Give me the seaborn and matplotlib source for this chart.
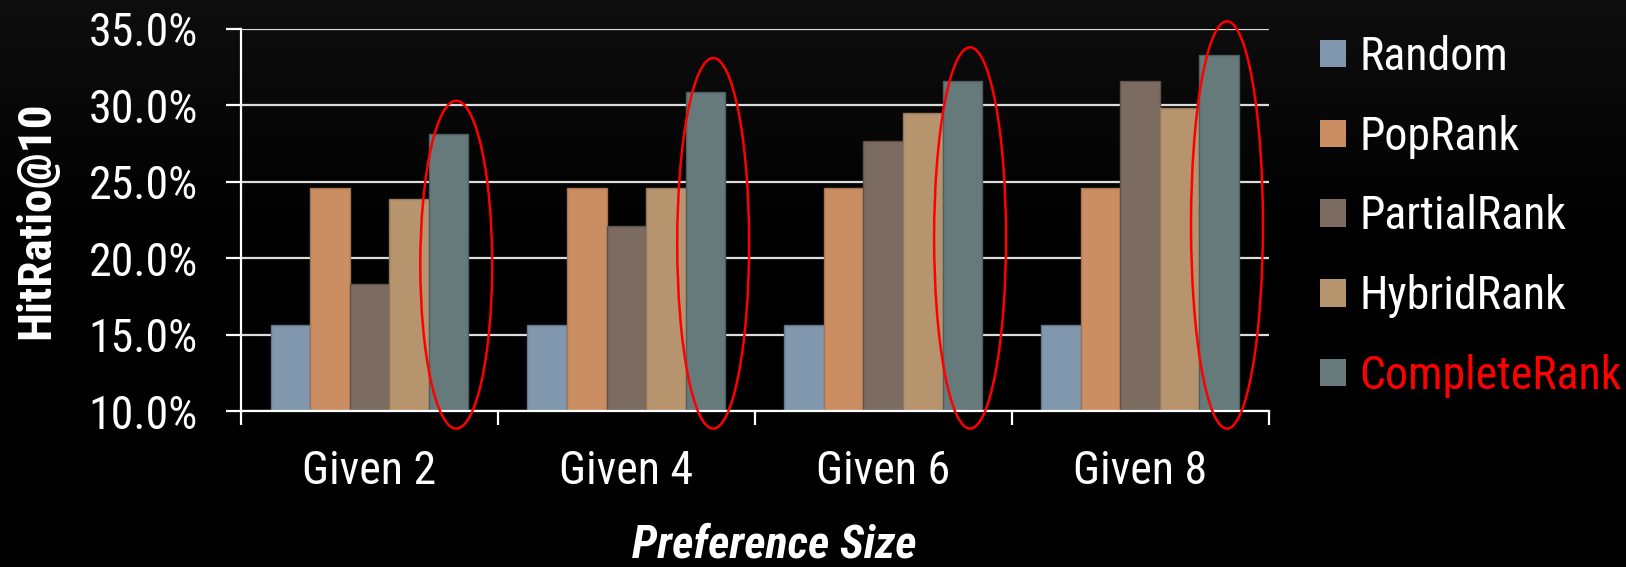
import numpy as np
import pandas as pd
import matplotlib
matplotlib.use("Agg")
import matplotlib.pyplot as plt
from matplotlib.patches import Patch, Ellipse
from matplotlib.ticker import FuncFormatter, FixedLocator
import seaborn as sns

# ---- data -------------------------------------------------------------
categories = ["Given 2", "Given 4", "Given 6", "Given 8"]
methods = ["Random", "PopRank", "PartialRank", "HybridRank", "CompleteRank"]
random_hr = [15.6, 15.6, 15.6, 15.6]
poprank_hr = [24.6, 24.6, 24.6, 24.6]
partialrank_hr = [18.3, 22.1, 27.7, 31.6]
hybridrank_hr = [23.9, 24.6, 29.5, 29.8]
completerank_hr = [28.1, 30.9, 31.6, 33.3]
y_ticks = [10, 15, 20, 25, 30, 35]

series = [random_hr, poprank_hr, partialrank_hr, hybridrank_hr, completerank_hr]
df = pd.DataFrame(
    [(c, m, v) for m, vals in zip(methods, series) for c, v in zip(categories, vals)],
    columns=["size", "method", "hit"],
)

colors = ["#8097ad", "#cb8e63", "#7b6b60", "#b5946e", "#66797b"]
edges = ["#62768a", "#a87450", "#5f5249", "#96785a", "#4f5e60"]

sns.set_theme(style="dark")
plt.rcParams["font.family"] = ["Roboto Condensed", "DejaVu Sans"]

fig = plt.figure(figsize=(16.26, 5.67), dpi=100)
fig.patch.set_facecolor("black")

# subtle dark gradient at the top of the canvas
bg = fig.add_axes([0, 0, 1, 1], zorder=-10)
shade = np.concatenate([np.linspace(0.055, 0.0, 110), np.zeros(146)])
img = np.repeat(shade[:, None, None], 3, axis=2).repeat(4, axis=1)
bg.imshow(img, aspect="auto", extent=[0, 1, 0, 1], origin="upper")
bg.set_axis_off()

ax = fig.add_axes([0.1482, 0.2751, 0.6320, 0.6738])
ax.set_facecolor("none")

sns.barplot(data=df, x="size", y="hit", hue="method", hue_order=methods,
            order=categories, palette=colors, width=0.77, gap=0, saturation=1,
            legend=False, ax=ax, zorder=3, linewidth=1)

for i, cont in enumerate(ax.containers):
    for bar in cont:
        bar.set_edgecolor(edges[i])
        bar.set_linewidth(1)

ax.set_ylim(y_ticks[0], y_ticks[-1])
ax.set_xlim(-0.5, len(categories) - 0.5)
ax.yaxis.set_major_locator(FixedLocator(y_ticks))
ax.yaxis.set_major_formatter(FuncFormatter(lambda v, p: f"{v:.1f}%"))

ax.grid(axis="y", color="#dcdcdc", linewidth=1.6, zorder=1)
ax.grid(axis="x", visible=False)
ax.set_axisbelow(True)

for s in ["top", "right"]:
    ax.spines[s].set_visible(False)
for s in ["left", "bottom"]:
    ax.spines[s].set_visible(True)
    ax.spines[s].set_color("white")
    ax.spines[s].set_linewidth(1.6)
    ax.spines[s].set_zorder(4)

fs = 33
ax.tick_params(axis="y", which="major", direction="out", length=11, width=1.6,
               color="white", labelcolor="white", labelsize=fs, pad=20, left=True)
ax.tick_params(axis="x", which="major", length=0, labelcolor="white",
               labelsize=fs, pad=27)
ax.set_xticks(np.arange(-0.5, len(categories), 1.0), minor=True)
ax.tick_params(axis="x", which="minor", direction="out", length=10, width=1.6,
               color="white", bottom=True)

ax.set_xlabel("")
ax.set_ylabel("HitRatio@10", color="white", fontsize=34, fontweight="bold", labelpad=22)
fig.text(0.476, 0.038, "Preference Size", color="white", fontsize=33,
         fontweight="bold", fontstyle="italic", ha="center", va="center")

# red ellipses highlighting the CompleteRank bars
n = len(methods)
bw = 0.77 / n
for i, v in enumerate(completerank_hr):
    xc = i + (n - 1) / 2 * bw + 0.03
    top, bottom = v + 2.2, 8.85
    ax.add_patch(Ellipse((xc, (top + bottom) / 2), width=0.28, height=top - bottom,
                         fill=False, edgecolor="#ff0000", linewidth=1.8,
                         zorder=6, clip_on=False))

handles = [Patch(facecolor=c, edgecolor="none") for c in colors]
leg = fig.legend(handles, methods, loc="upper left", bbox_to_anchor=(0.8120, 0.9385),
                 frameon=False, fontsize=fs, handlelength=0.55, handleheight=0.55,
                 handletextpad=0.3, labelspacing=0.78, borderpad=0, borderaxespad=0)
for t, c in zip(leg.get_texts(), ["white"] * 4 + ["#ff0000"]):
    t.set_color(c)

fig.savefig("out.png", dpi=100, facecolor=fig.get_facecolor())
